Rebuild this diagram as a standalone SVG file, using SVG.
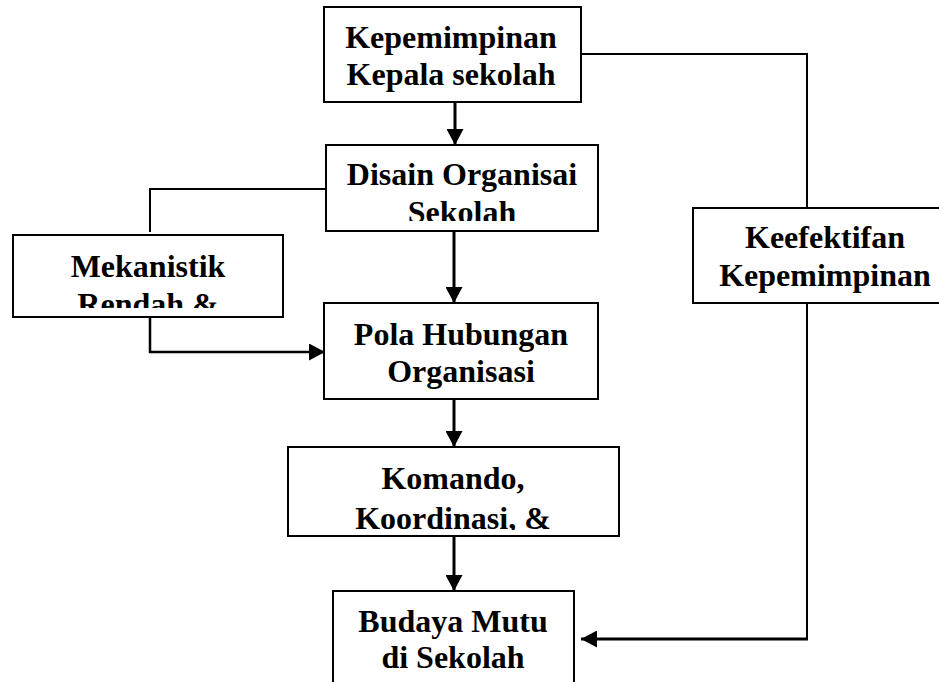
<svg xmlns="http://www.w3.org/2000/svg" width="939" height="682" viewBox="0 0 939 682">
  <style>
    .box { fill: #ffffff; stroke: #000000; stroke-width: 2; }
    .lbl { font-family: "Liberation Serif", "Times New Roman", serif; font-weight: bold; font-size: 32px; fill: #000000; text-anchor: middle; }
    .wire { fill: none; stroke: #000000; stroke-width: 2; }
    .flow { fill: none; stroke: #000000; stroke-width: 3; }
  </style>
  <defs>
    <marker id="head" viewBox="0 0 16 17" refX="16" refY="8.5" markerWidth="16" markerHeight="17" markerUnits="userSpaceOnUse" orient="auto">
      <path d="M0,0 L16,8.5 L0,17 Z" fill="#000000"/>
    </marker>
    <clipPath id="clip-disain"><rect x="326" y="145" width="272" height="76"/></clipPath>
    <clipPath id="clip-mekanistik"><rect x="13" y="235" width="270" height="73"/></clipPath>
    <clipPath id="clip-komando"><rect x="288" y="447" width="331" height="83"/></clipPath>
  </defs>

  <rect width="939" height="682" fill="#ffffff"/>

  <!-- connectors -->
  <g id="connectors">
    <path class="flow" d="M455,102 V145" marker-end="url(#head)"/>
    <path class="flow" d="M454,227 V303" marker-end="url(#head)"/>
    <path class="flow" d="M454,399 V447" marker-end="url(#head)"/>
    <path class="flow" d="M454,536 V591" marker-end="url(#head)"/>
    <path class="wire" d="M326,189 H150 V232"/>
    <path class="flow" d="M150,317 V352 H325" marker-end="url(#head)" style="stroke-width:2.5"/>
    <path class="wire" d="M581,54 H807 V208"/>
    <path class="wire" d="M807,303 V639"/>
    <path class="flow" d="M808,639 H581" marker-end="url(#head)"/>
  </g>

  <g id="kepemimpinan">
    <rect class="box" x="324" y="7" width="257" height="95"/>
    <text class="lbl" x="451" y="48">Kepemimpinan</text>
    <text class="lbl" x="451" y="85">Kepala sekolah</text>
  </g>

  <g id="disain">
    <rect class="box" x="326" y="145" width="272" height="86"/>
    <g clip-path="url(#clip-disain)">
      <text class="lbl" x="462" y="185">Disain Organisai</text>
      <text class="lbl" x="462" y="223">Sekolah</text>
    </g>
  </g>

  <g id="mekanistik">
    <rect class="box" x="13" y="235" width="270" height="82"/>
    <g clip-path="url(#clip-mekanistik)">
      <text class="lbl" x="148" y="277">Mekanistik</text>
      <text class="lbl" x="148" y="315">Rendah &amp;</text>
    </g>
  </g>

  <g id="pola">
    <rect class="box" x="324" y="303" width="274" height="96"/>
    <text class="lbl" x="461" y="345">Pola Hubungan</text>
    <text class="lbl" x="461" y="382">Organisasi</text>
  </g>

  <g id="keefektifan">
    <rect class="box" x="693" y="208" width="264" height="95"/>
    <text class="lbl" x="825" y="248">Keefektifan</text>
    <text class="lbl" x="825" y="286">Kepemimpinan</text>
  </g>

  <g id="komando">
    <rect class="box" x="288" y="447" width="331" height="89"/>
    <g clip-path="url(#clip-komando)">
      <text class="lbl" x="453" y="489">Komando,</text>
      <text class="lbl" x="453" y="529">Koordinasi, &amp;</text>
    </g>
  </g>

  <g id="budaya">
    <rect class="box" x="333" y="591" width="241" height="100"/>
    <text class="lbl" x="453" y="632">Budaya Mutu</text>
    <text class="lbl" x="453" y="668">di Sekolah</text>
  </g>
</svg>
